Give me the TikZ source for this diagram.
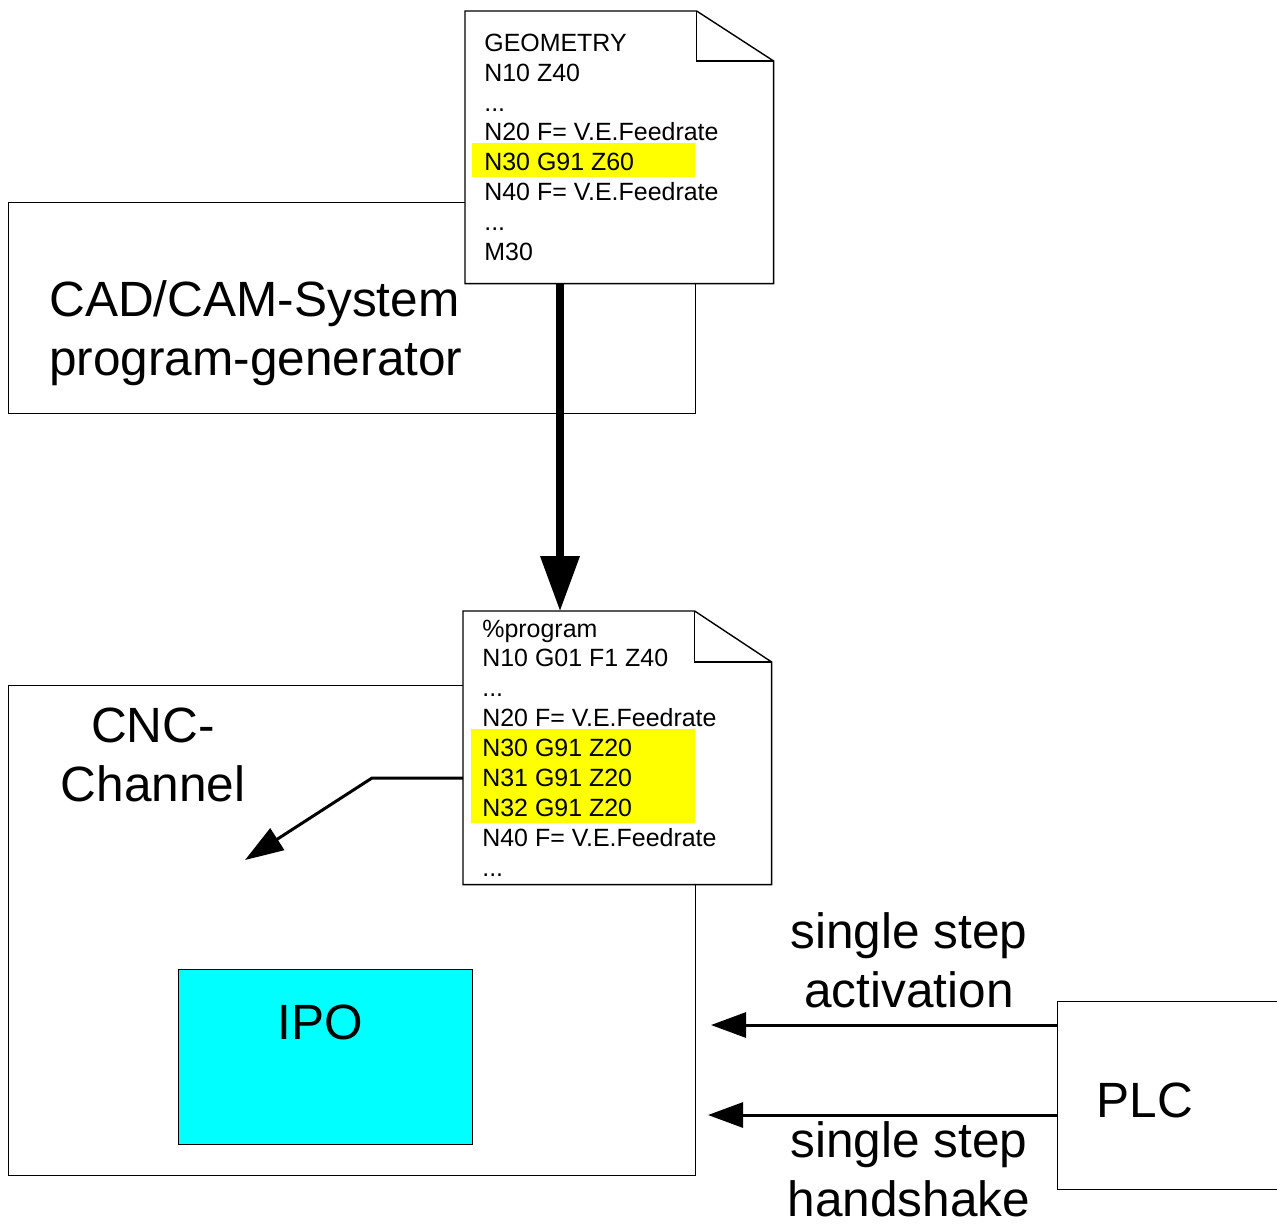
\documentclass[tikz,border=0pt]{standalone}
\usepackage{fontspec}
\setmainfont{Liberation Sans}
\usetikzlibrary{arrows.meta,calc}
\definecolor{ipocyan}{RGB}{0,255,255}
\definecolor{marker}{RGB}{255,255,0}

\begin{document}
\begin{tikzpicture}[x=0.02cm,y=-0.02cm]
    \begin{scope}
        \tikzset{
            plain box/.style={draw, line width=0.8pt, fill=white, anchor=north west, inner sep=0pt},
            doc box/.style={anchor=north west, inner sep=0pt, minimum width=6.16cm},
            doc edge/.style={line width=0.8pt},
            code line/.style={anchor=base west, inner sep=0pt, font=\fontsize{14.2}{17}\selectfont},
            big text/.style={font=\fontsize{28.2}{33.5}\selectfont, align=center, inner sep=0pt},
            signal/.style={line width=1.7pt, -{Triangle[length=0.7cm, width=0.5cm]}}
        }
        \useasboundingbox (0,0) rectangle (1277,1228);

        % Draw the CAD/CAM box and the channel box
        \node [plain box, minimum width=13.74cm, minimum height=4.22cm] (cad) at (8,202) {};
        \node [plain box, minimum width=13.74cm, minimum height=9.8cm] (cnc) at (8,685) {};
        \node [plain box, fill=ipocyan, minimum width=5.88cm, minimum height=3.5cm] (ipo) at (178,969) {};
        \node [plain box, minimum width=4.8cm, minimum height=3.76cm] (plc) at (1057,1001) {};

        % Label the boxes
        \node [big text, align=left, anchor=west] (cad label) at (49,333) {CAD/CAM-System\\program-generator};
        \node [big text] (cnc label) at (153,755) {CNC-\\Channel};
        \node [big text] (ipo label) at (320,1022) {IPO};
        \node [big text] (plc label) at (1145,1100) {PLC};

        % Draw the geometry file
        \node [doc box, minimum height=5.44cm] (geo) at (465,11) {};
        \draw [doc edge, fill=white] (geo.north west) -- ($(geo.north east)+(-77,0)$) -- ($(geo.north east)+(0,50)$)
            -- (geo.south east) -- (geo.south west) -- cycle;
        \draw [doc edge] ($(geo.north east)+(-77,0)$) |- ($(geo.north east)+(0,50)$);
        \fill [marker] (472,143) rectangle (695,177);
        \node [code line] (g1) at (484,51) {GEOMETRY};
        \node [code line] (g2) at (484,81) {N10 Z40};
        \node [code line] (g3) at (484,111) {...};
        \node [code line] (g4) at (484,140) {N20 F= V.E.Feedrate};
        \node [code line] (g5) at (484,170) {N30 G91 Z60};
        \node [code line] (g6) at (484,200) {N40 F= V.E.Feedrate};
        \node [code line] (g7) at (484,230) {...};
        \node [code line] (g8) at (484,260) {M30};

        % Draw the generated program
        \node [doc box, minimum height=5.46cm] (prog) at (463,611) {};
        \draw [doc edge, fill=white] (prog.north west) -- ($(prog.north east)+(-77,0)$) -- ($(prog.north east)+(0,51)$)
            -- (prog.south east) -- (prog.south west) -- cycle;
        \draw [doc edge] ($(prog.north east)+(-77,0)$) |- ($(prog.north east)+(0,51)$);
        \fill [marker] (471,729) rectangle (695,823);
        \node [code line] (p1) at (482,637) {\%program};
        \node [code line] (p2) at (482,666) {N10 G01 F1 Z40};
        \node [code line] (p3) at (482,696) {...};
        \node [code line] (p4) at (482,726) {N20 F= V.E.Feedrate};
        \node [code line] (p5) at (482,756) {N30 G91 Z20};
        \node [code line] (p6) at (482,786) {N31 G91 Z20};
        \node [code line] (p7) at (482,816) {N32 G91 Z20};
        \node [code line] (p8) at (482,846) {N40 F= V.E.Feedrate};
        \node [code line] (p9) at (482,876) {...};

        % Connect the files and the channel
        \coordinate (feed) at (560,0);
        \draw [line width=4pt, -{Triangle[length=1.1cm, width=0.76cm]}] (geo.south -| feed) -- (prog.north -| feed);
        \coordinate (bend) at (372,778);
        \coordinate (ipo in) at (245,860);
        \draw [line width=1.7pt, -{Triangle[length=0.77cm, width=0.51cm]}] (prog.west |- bend) -- (bend) -- (ipo in);

        % Signals from the PLC
        \coordinate (act end) at (711,1025);
        \coordinate (hs end) at (708,1115);
        \draw [signal] (plc.west |- act end) -- (act end);
        \draw [signal] (plc.west |- hs end) -- (hs end);
        \node [big text] (act label) at (909,960) {single step\\activation};
        \node [big text] (hs label) at (909,1169) {single step\\handshake};
    \end{scope}
\end{tikzpicture}
\end{document}
